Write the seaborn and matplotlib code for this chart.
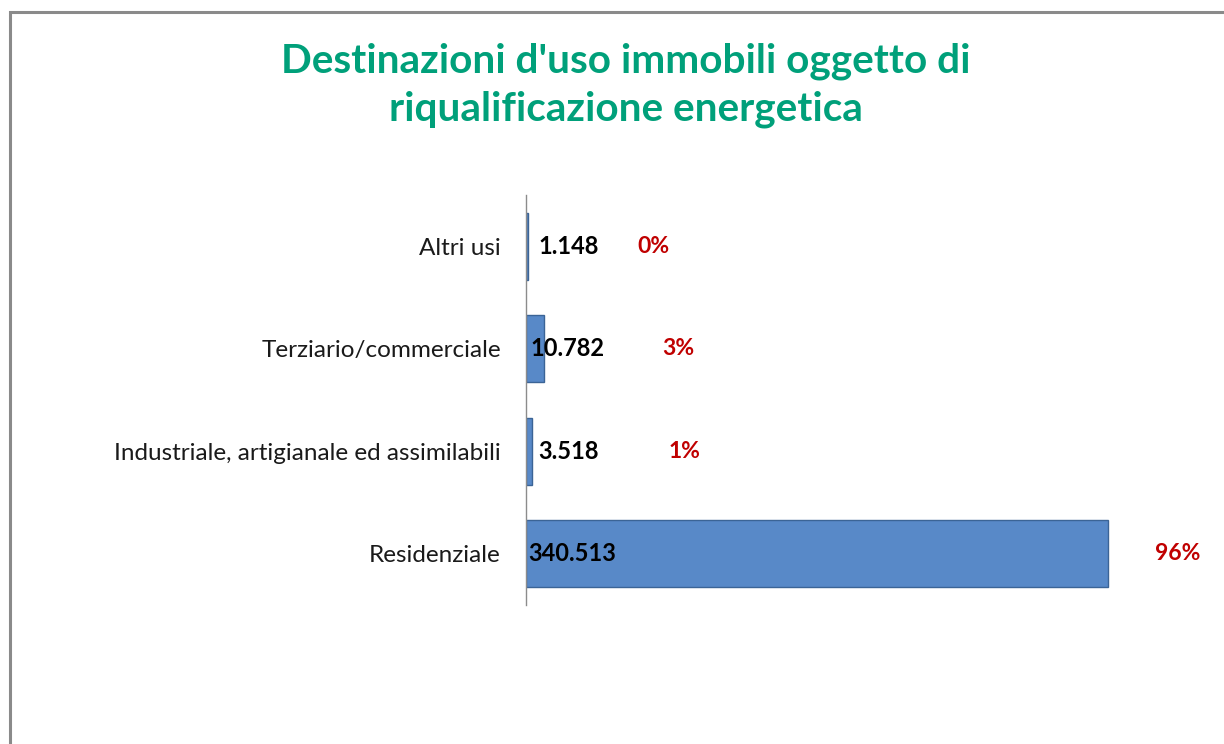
import matplotlib.pyplot as plt
import pandas as pd
import seaborn as sns
from matplotlib.patches import Rectangle

categories = ["Altri usi", "Terziario/commerciale",
              "Industriale, artigianale ed assimilabili", "Residenziale"]
values = [1148, 10782, 3518, 340513]

title = "Destinazioni d'uso immobili oggetto di\nriqualificazione energetica"

BAR_COLOR = "#5889C8"
EDGE_COLOR = "#3B6496"
TITLE_COLOR = "#00A07A"
PCT_COLOR = "#C00000"
FONT = ["Lato", "DejaVu Sans"]

# label offsets (points) copied from the Excel layout
value_offsets = [9, 3, 9, 2]
pct_offsets = [79, 85, 98, 34]

df = pd.DataFrame({"categoria": categories, "valore": values})
total = df["valore"].sum()
df["pct"] = (df["valore"] / total * 100).round().astype(int)

sns.set_style("white")
plt.rcParams["font.family"] = FONT

fig = plt.figure(figsize=(12.24, 7.44), dpi=100)
ax = fig.add_axes([0.4297, 0.1868, 0.5027, 0.551])

sns.barplot(data=df, x="valore", y="categoria", orient="h", color=BAR_COLOR,
            width=0.65, edgecolor=EDGE_COLOR, linewidth=1, saturation=1, ax=ax)

ax.set_xlim(0, 360000)
ax.set_xlabel("")
ax.set_ylabel("")
ax.set_xticks([])
ax.tick_params(axis="y", length=0, pad=18, labelsize=17.5, labelcolor="#1a1a1a")
for side in ["top", "right", "bottom"]:
    ax.spines[side].set_visible(False)
ax.spines["left"].set_color("#8c8c8c")
ax.spines["left"].set_linewidth(1)

for i, row in df.iterrows():
    label = f"{row['valore']:,}".replace(",", ".")
    ax.annotate(label, xy=(0, i), xytext=(value_offsets[i], 0),
                textcoords="offset points", ha="left", va="center",
                fontsize=17, fontweight="bold", color="black")
    ax.annotate(f"{row['pct']}%", xy=(row["valore"], i), xytext=(pct_offsets[i], 0),
                textcoords="offset points", ha="left", va="center",
                fontsize=16.5, fontweight="bold", color=PCT_COLOR)

fig.text(0.511, 0.886, title, ha="center", va="center", fontsize=29.2,
         fontweight="bold", color=TITLE_COLOR, linespacing=1.35)

# chart frame, cut at the right and bottom like the screenshot
frame = Rectangle((10 / 1224, -0.1), 1.2, 1 - 12 / 744 + 0.1, transform=fig.transFigure,
                  fill=False, edgecolor="#8a8a8a", linewidth=2.2)
fig.patches.append(frame)

fig.savefig("out.png", dpi=100)
